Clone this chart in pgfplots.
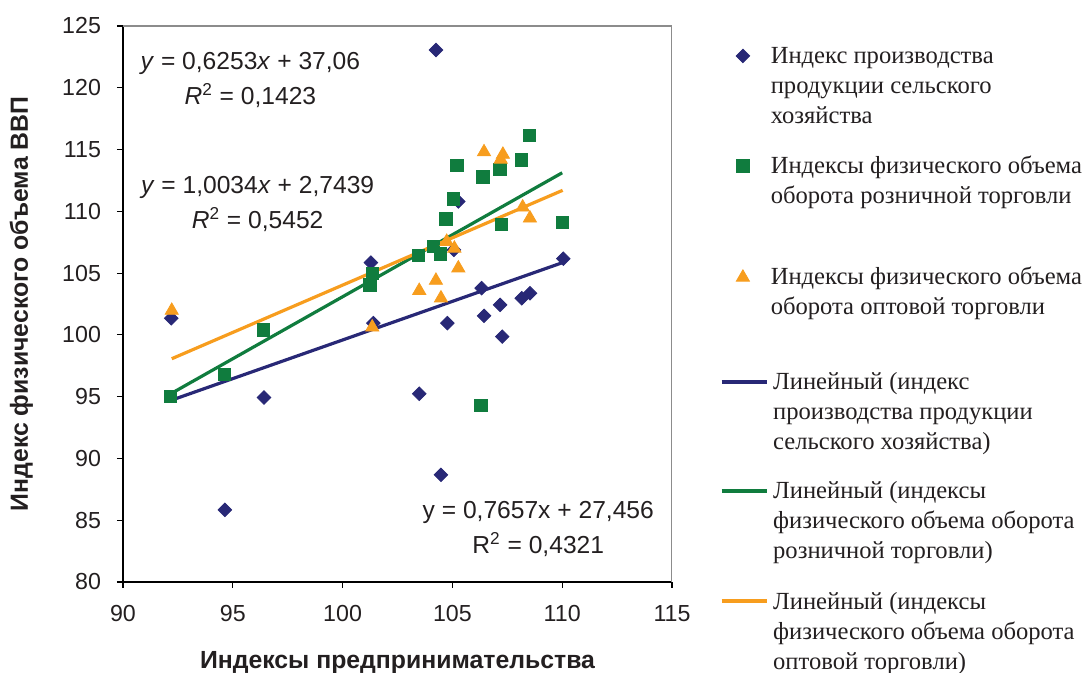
\documentclass[border=0pt]{standalone}
\usepackage{pgfplots}
\pgfplotsset{compat=1.18}
\usepackage{fontspec}
\setmainfont{Liberation Sans}
\newfontfamily\legfont{Liberation Serif}
\definecolor{cnavy}{RGB}{40,40,118}
\definecolor{cgreen}{RGB}{16,124,62}
\definecolor{corange}{RGB}{247,157,30}
\definecolor{ctext}{RGB}{35,31,32}
\newcommand{\LE}[1]{\begin{tabular}[t]{@{}l@{}}#1\end{tabular}}
\pgfplotsset{
  mleg/.style={legend image code/.code={\draw[##1] plot coordinates {(11.25pt,4pt)}; \path (0pt,0pt) (25pt,0pt);}},
  tleg/.style={legend image code/.code={\draw[##1] plot coordinates {(11.25pt,3.3pt)}; \path (0pt,0pt) (25pt,0pt);}},
  lleg/.style={legend image code/.code={\draw[##1] (0pt,4pt) -- (22.5pt,4pt); \path (0pt,0pt) (25pt,0pt);}},
  legax/.style={scale only axis, width=274.5pt, height=278pt,
    xmin=0, xmax=1, ymin=0, ymax=1, hide axis,
    legend style={draw=none, fill=none, inner sep=0pt, outer sep=0pt,
      at={(1.0874,#1)}, anchor=north west,
      font=\legfont\fontsize{12.3}{15}\selectfont,
      text=ctext, row sep=0pt, nodes={inner sep=0pt},
      cells={anchor=base west}}},
  pnavy/.style={only marks, mark=square*, mark size=2.4pt, mark options={rotate=45, draw=cnavy, fill=cnavy}},
  pgreen/.style={only marks, mark=square*, mark size=3.1pt, mark options={draw=cgreen, fill=cgreen}},
  porange/.style={only marks, mark=triangle*, mark size=3.8pt, mark options={draw=corange, fill=corange}},
}
\begin{document}
\begin{tikzpicture}
\useasboundingbox (-61.5pt,-45.5pt) rectangle (482pt,291pt);
\begin{axis}[
  scale only axis, width=274.5pt, height=278pt,
  xmin=90, xmax=115, ymin=80, ymax=125,
  xtick={90,95,...,115}, ytick={80,85,...,125},
  axis x line*=bottom, axis y line*=left,
  axis line style={-, black, line width=0.6pt},
  tick align=outside, major tick length=3pt,
  tick style={black, line width=0.6pt},
  /pgf/number format/assume math mode=true,
  ticklabel style={font=\fontsize{11.6}{14}\selectfont, text=ctext},
  xticklabel style={yshift=-5pt},
  yticklabel style={xshift=-4.5pt},
  xlabel={Индексы предпринимательства},
  ylabel={Индекс физического объема ВВП},
  label style={font=\fontsize{12.4}{14}\selectfont\bfseries, text=ctext},
  xlabel style={at={(axis description cs:0.5,-0.1455)}, anchor=center},
  ylabel style={at={(axis description cs:-0.185,0.5)}, anchor=center},
]
\addplot[pnavy] coordinates {
(92.2,101.35) (94.64,85.84) (96.42,94.93) (101.29,105.85) (101.4,100.95)
(103.49,95.23) (104.25,123.06) (104.48,88.67) (104.77,100.95) (105.07,106.88)
(105.27,110.8) (106.33,103.78) (106.44,101.54) (107.17,102.43) (107.27,99.86)
(108.16,102.97) (108.53,103.37) (110.05,106.17)};
\addplot[pgreen] coordinates {
(92.17,95.01) (94.61,96.82) (96.39,100.4) (101.25,104.05) (101.35,104.99)
(103.45,106.42) (104.13,107.14) (104.45,106.55) (104.71,109.38) (105.04,111.0)
(105.21,113.73) (106.30,94.28) (106.39,112.8) (107.17,113.4) (107.24,108.95)
(108.15,114.16) (108.50,116.13) (110.0,109.09)};
\addplot[porange] coordinates {
(92.22,101.97) (101.35,100.62) (103.49,103.58) (104.25,104.4) (104.48,102.97)
(104.74,107.55) (105.09,107.0) (105.27,105.4) (106.44,114.8) (107.2,114.2)
(107.3,114.6) (108.2,110.33) (108.53,109.44)};
\addplot[cnavy, line width=1.6pt, no marks] coordinates {(92.2,94.71) (110.05,105.87)};
\addplot[cgreen, line width=1.6pt, no marks] coordinates {(92.17,95.23) (110.0,113.12)};
\addplot[corange, line width=1.6pt, no marks] coordinates {(92.22,98.07) (110.02,111.70)};
\draw[black!45, line width=1pt] (rel axis cs:0,1) -- (rel axis cs:1,1) -- (rel axis cs:1,0);
\node[align=center, text=ctext, font=\fontsize{12.3}{17.3}\selectfont] at (axis cs:95.8,120.63)
  {\textit{y} = 0,6253\textit{x} + 37,06\\\textit{R}\textsuperscript{2} = 0,1423};
\node[align=center, text=ctext, font=\fontsize{12.3}{17.3}\selectfont] at (axis cs:96.13,110.58)
  {\textit{y} = 1,0034\textit{x} + 2,7439\\\textit{R}\textsuperscript{2} = 0,5452};
\node[align=center, text=ctext, font=\fontsize{12.3}{17.3}\selectfont] at (axis cs:108.91,84.29)
  {y = 0,7657x + 27,456\\R\textsuperscript{2} = 0,4321};
\end{axis}
\begin{axis}[legax=0.9694]
\addlegendimage{pnavy, mleg}
\addlegendentry{\LE{Индекс производства\\продукции сельского\\хозяйства}}
\end{axis}
\begin{axis}[legax=0.7716]
\addlegendimage{pgreen, mleg}
\addlegendentry{\LE{Индексы физического объема\\оборота розничной торговли}}
\end{axis}
\begin{axis}[legax=0.5737]
\addlegendimage{porange, tleg}
\addlegendentry{\LE{Индексы физического объема\\оборота оптовой торговли}}
\end{axis}
\begin{axis}[legax=0.3831]
\addlegendimage{cnavy, line width=1.6pt, no marks, lleg}
\addlegendentry{\LE{Линейный (индекс\\производства продукции\\сельского хозяйства)}}
\end{axis}
\begin{axis}[legax=0.1871]
\addlegendimage{cgreen, line width=1.6pt, no marks, lleg}
\addlegendentry{\LE{Линейный (индексы\\физического объема оборота\\розничной торговли)}}
\end{axis}
\begin{axis}[legax=-0.0108]
\addlegendimage{corange, line width=1.6pt, no marks, lleg}
\addlegendentry{\LE{Линейный (индексы\\физического объема оборота\\оптовой торговли)}}
\end{axis}
\end{tikzpicture}
\end{document}
